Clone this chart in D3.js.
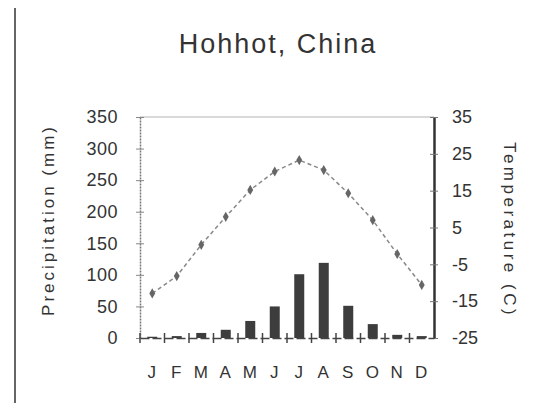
<!DOCTYPE html>
<html>
<head>
<meta charset="utf-8">
<script src="https://cdn.jsdelivr.net/npm/d3@7"></script>
<style>
  body { margin: 0; background: #fff; }
  svg text { font-family: "Liberation Sans", Arial, sans-serif; fill: #333; }
</style>
</head>
<body>
<div id="chart"></div>
<script>
const months = ['J', 'F', 'M', 'A', 'M', 'J', 'J', 'A', 'S', 'O', 'N', 'D'];
const precipitation = [2, 3, 8, 13, 27, 50, 101, 119, 51, 22, 5, 3];
const temperature = [-12.9, -8.2, 0.3, 7.9, 15.2, 20.2, 23.3, 20.6, 14.3, 7, -2.2, -10.6];
const precipTicks = [0, 50, 100, 150, 200, 250, 300, 350];
const tempTicks = [-25, -15, -5, 5, 15, 25, 35];

const width = 546, height = 418;
const margin = { top: 117, right: 112, bottom: 80, left: 140 };
const innerW = width - margin.left - margin.right;
const innerH = height - margin.top - margin.bottom;

const svg = d3.select('#chart').append('svg')
  .attr('width', width)
  .attr('height', height);

// scanned page edge
svg.append('line')
  .attr('x1', 15).attr('x2', 15)
  .attr('y1', 8).attr('y2', 403)
  .attr('stroke', '#666')
  .attr('stroke-width', 2);

svg.append('text')
  .attr('x', 278)
  .attr('y', 53)
  .attr('text-anchor', 'middle')
  .attr('font-size', 27)
  .attr('letter-spacing', 2)
  .style('fill', '#333')
  .text('Hohhot, China');

const g = svg.append('g')
  .attr('transform', `translate(${margin.left}, ${margin.top})`);

const x = d3.scaleBand().domain(d3.range(12)).range([0, innerW]);
const yP = d3.scaleLinear().domain([0, 350]).range([innerH, 0]);
const yT = d3.scaleLinear().domain([-25, 35]).range([innerH, 0]);

// faint top frame line
g.append('line')
  .attr('x1', 0).attr('x2', innerW)
  .attr('y1', 0).attr('y2', 0)
  .attr('stroke', '#ccc')
  .attr('stroke-width', 1.5);

// precipitation bars
g.selectAll('rect.bar')
  .data(precipitation)
  .enter()
  .append('rect')
  .attr('class', 'bar')
  .attr('x', (d, i) => x(i) + x.bandwidth() / 2 - 5)
  .attr('width', 10)
  .attr('y', d => yP(d))
  .attr('height', d => innerH - yP(d))
  .attr('fill', '#3d3d3d');

// temperature line
const line = d3.line()
  .x((d, i) => x(i) + x.bandwidth() / 2)
  .y(d => yT(d));

g.append('path')
  .datum(temperature)
  .attr('d', line)
  .attr('fill', 'none')
  .attr('stroke', '#888')
  .attr('stroke-width', 1.5)
  .attr('stroke-dasharray', '4,3');

g.selectAll('path.pt')
  .data(temperature)
  .enter()
  .append('path')
  .attr('class', 'pt')
  .attr('d', d3.symbol(d3.symbolDiamond, 30))
  .attr('transform', (d, i) => `translate(${x(i) + x.bandwidth() / 2}, ${yT(d)})`)
  .attr('fill', '#666');

// left axis
const axisL = g.append('g')
  .call(d3.axisLeft(yP).tickValues(precipTicks).tickSizeInner(4).tickSizeOuter(0).tickPadding(18));
axisL.select('.domain').attr('stroke', '#777').attr('stroke-width', 1.5).attr('stroke-dasharray', '2,1');
axisL.selectAll('.tick line').attr('x2', 4).attr('x1', -4).attr('stroke', '#888');
axisL.selectAll('.tick text').attr('font-size', 18).attr('letter-spacing', 0.5).style('fill', '#333');

// right axis
const axisR = g.append('g')
  .attr('transform', `translate(${innerW}, 0)`)
  .call(d3.axisRight(yT).tickValues(tempTicks).tickFormat(d => String(d))
    .tickSizeInner(4).tickSizeOuter(0).tickPadding(14));
axisR.select('.domain').attr('stroke', '#333').attr('stroke-width', 2.5);
axisR.selectAll('.tick line').attr('x1', -4).attr('x2', 4).attr('stroke', '#777');
axisR.selectAll('.tick text').attr('font-size', 18).style('fill', '#333');

// bottom axis: ticks at month boundaries
const axisB = g.append('g')
  .attr('transform', `translate(0, ${innerH})`)
  .call(d3.axisBottom(x).tickSize(0).tickFormat(i => months[i]).tickPadding(28));
axisB.select('.domain').attr('stroke', '#444').attr('stroke-width', 1.5).attr('stroke-dasharray', '9,3');
axisB.selectAll('.tick text').attr('font-size', 17).attr('letter-spacing', 1).style('fill', '#333');

g.selectAll('line.mtick')
  .data(d3.range(12))
  .enter()
  .append('line')
  .attr('class', 'mtick')
  .attr('x1', i => x(i)).attr('x2', i => x(i))
  .attr('y1', innerH - 5).attr('y2', innerH + 5)
  .attr('stroke', '#444')
  .attr('stroke-width', 1.5);

// axis titles
svg.append('text')
  .attr('transform', `translate(54, 220) rotate(-90)`)
  .attr('text-anchor', 'middle')
  .attr('font-size', 17)
  .attr('letter-spacing', 3)
  .text('Precipitation (mm)');

svg.append('text')
  .attr('transform', `translate(504, 230) rotate(90)`)
  .attr('text-anchor', 'middle')
  .attr('font-size', 17)
  .attr('letter-spacing', 3.5)
  .text('Temperature (C)');
</script>
</body>
</html>
